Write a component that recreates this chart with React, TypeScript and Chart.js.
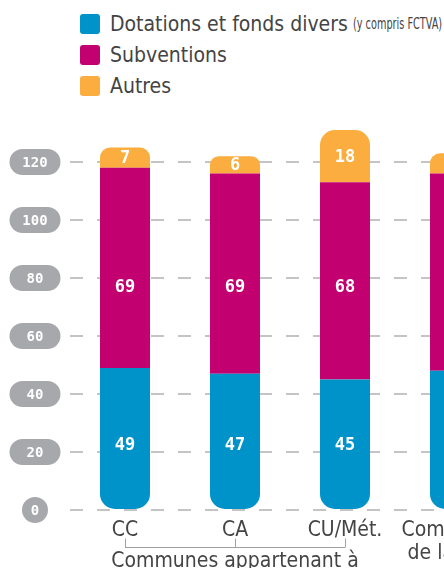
import React, { useEffect, useRef } from "react";
import { Chart, registerables } from "chart.js";

Chart.register(...registerables);

const categories: (string | string[])[] = ["CC", "CA", "CU/Mét.", ["Communes", "de la MGP"]];
const dotations = [49, 47, 45, 48];
const subventions = [69, 69, 68, 68];
const autres = [7, 6, 18, 7];
const seriesNames = ["Dotations et fonds divers", "Subventions", "Autres"];
const seriesNotes = ["(y compris FCTVA)", "", ""];
const seriesColors = ["#0093c9", "#c3006f", "#fbad3f"];
// value level (in axis units) at which each series' labels sit; null = centre of segment
const labelLevels: (number | null)[] = [22.5, 77, null];
const yTickValues = [0, 20, 40, 60, 80, 100, 120];
const groupLabel = "Communes appartenant à";
const groupedCategories = [0, 1, 2];

const TEXT_FONT = "'Liberation Sans Narrow', 'DejaVu Sans Condensed', 'Open Sans', sans-serif";
const NUM_FONT = "'DejaVu Sans Mono', monospace";
const TEXT_COLOR = "#444444";
const PILL_COLOR = "#a7a8ac";

const pillPlugin = {
  id: "pills",
  afterDraw(chart: any) {
    const ctx = chart.ctx;
    const y = chart.scales.y;
    const cx = 27;
    ctx.save();
    yTickValues.forEach((v) => {
      const py = y.getPixelForValue(v);
      const label = String(v);
      const h = 26;
      const w = label.length === 1 ? 26 : 51;
      const r = h / 2;
      ctx.fillStyle = PILL_COLOR;
      ctx.beginPath();
      ctx.roundRect(cx - w / 2, py - h / 2, w, h, r);
      ctx.fill();
      ctx.fillStyle = "#ffffff";
      ctx.font = `bold 14px ${NUM_FONT}`;
      ctx.textAlign = "center";
      ctx.textBaseline = "middle";
      ctx.fillText(label, cx, py + 1);
    });
    ctx.restore();
  },
};

const valuePlugin = {
  id: "values",
  afterDatasetsDraw(chart: any) {
    const ctx = chart.ctx;
    const yScale = chart.scales.y;
    ctx.save();
    ctx.fillStyle = "#ffffff";
    ctx.font = `bold 17px ${NUM_FONT}`;
    ctx.textAlign = "center";
    ctx.textBaseline = "middle";
    chart.data.datasets.forEach((ds: any, di: number) => {
      const meta = chart.getDatasetMeta(di);
      const lvl = labelLevels[di];
      meta.data.forEach((el: any, i: number) => {
        const v = ds.data[i];
        const py = lvl == null ? (el.y + el.base) / 2 : yScale.getPixelForValue(lvl);
        ctx.fillText(String(v), el.x, py + 1);
      });
    });
    ctx.restore();
  },
};

const bracketPlugin = {
  id: "bracket",
  afterDraw(chart: any) {
    const ctx = chart.ctx;
    const x = chart.scales.x;
    const xs = groupedCategories.map((i) => x.getPixelForValue(i));
    const yLine = 539.5;
    ctx.save();
    ctx.strokeStyle = "#a0a0a0";
    ctx.lineWidth = 1;
    ctx.beginPath();
    ctx.moveTo(xs[0], yLine);
    ctx.lineTo(xs[xs.length - 1], yLine);
    xs.forEach((px) => {
      const p = Math.round(px) + 0.5;
      ctx.moveTo(p, yLine);
      ctx.lineTo(p, yLine - 9);
    });
    ctx.stroke();
    ctx.fillStyle = TEXT_COLOR;
    ctx.font = `21px ${TEXT_FONT}`;
    ctx.textAlign = "center";
    ctx.textBaseline = "alphabetic";
    ctx.fillText(groupLabel, xs[1], 559);
    ctx.restore();
  },
};

export default function App() {
  const ref = useRef<HTMLCanvasElement>(null);
  useEffect(() => {
    if (!ref.current) return;
    const radius = 15;
    const chart = new Chart(ref.current, {
      type: "bar",
      data: {
        labels: categories as any,
        datasets: [
          {
            label: seriesNames[0],
            data: dotations,
            backgroundColor: seriesColors[0],
            borderSkipped: false,
            borderRadius: { topLeft: 0, topRight: 0, bottomLeft: radius, bottomRight: radius },
          },
          {
            label: seriesNames[1],
            data: subventions,
            backgroundColor: seriesColors[1],
            borderSkipped: false,
            borderRadius: 0,
          },
          {
            label: seriesNames[2],
            data: autres,
            backgroundColor: seriesColors[2],
            borderSkipped: false,
            borderRadius: { topLeft: radius, topRight: radius, bottomLeft: 0, bottomRight: 0 },
          },
        ],
      },
      options: {
        responsive: false,
        animation: false,
        layout: { padding: { top: 96, right: 8, left: 0, bottom: 0 } },
        datasets: { bar: { categoryPercentage: 50 / 110, barPercentage: 1, inflateAmount: 0 } },
        plugins: { legend: { display: false }, tooltip: { enabled: false } },
        scales: {
          x: {
            stacked: true,
            grid: { display: false },
            border: { display: false },
            ticks: {
              color: TEXT_COLOR,
              font: { family: TEXT_FONT, size: 21, lineHeight: 1.1 },
              padding: 1,
              maxRotation: 0,
              autoSkip: false,
            },
            afterFit: (s: any) => {
              s.height = 58;
            },
          },
          y: {
            stacked: true,
            min: 0,
            max: 140,
            ticks: { display: false, stepSize: 20 },
            afterBuildTicks: (s: any) => {
              s.ticks = s.ticks.filter((t: any) => t.value <= 120);
            },
            afterFit: (s: any) => {
              s.width = 62;
            },
            grid: { color: "#c4c4c4", lineWidth: 2, drawTicks: false },
            border: { display: false, dash: [13, 14] },
          },
        },
      } as any,
      plugins: [pillPlugin, valuePlugin, bracketPlugin],
    });
    return () => chart.destroy();
  }, []);

  return (
    <div
      style={{
        width: 444,
        height: 568,
        overflow: "hidden",
        position: "relative",
        background: "#ffffff",
      }}
    >
      <style>{"html,body{margin:0;padding:0;overflow:hidden;}"}</style>
      <div
        style={{
          position: "absolute",
          left: 80,
          top: 8,
          fontFamily: TEXT_FONT,
          color: TEXT_COLOR,
          whiteSpace: "nowrap",
        }}
      >
        {seriesNames.map((name, i) => (
          <div key={i} style={{ display: "flex", alignItems: "center", height: 31 }}>
            <span
              style={{
                display: "inline-block",
                width: 20,
                height: 20,
                borderRadius: 3,
                background: seriesColors[i],
                marginRight: 10,
              }}
            />
            <span style={{ fontSize: 21 }}>{name}</span>
            {seriesNotes[i] ? (
              <span
                style={{
                  fontSize: 15,
                  marginLeft: 5,
                  display: "inline-block",
                  transform: "scaleX(0.72)",
                  transformOrigin: "left center",
                }}
              >
                {seriesNotes[i]}
              </span>
            ) : null}
          </div>
        ))}
      </div>
      <canvas
        ref={ref}
        width={510}
        height={560}
        style={{ display: "block", position: "absolute", left: 8, top: 8 }}
      />
    </div>
  );
}
